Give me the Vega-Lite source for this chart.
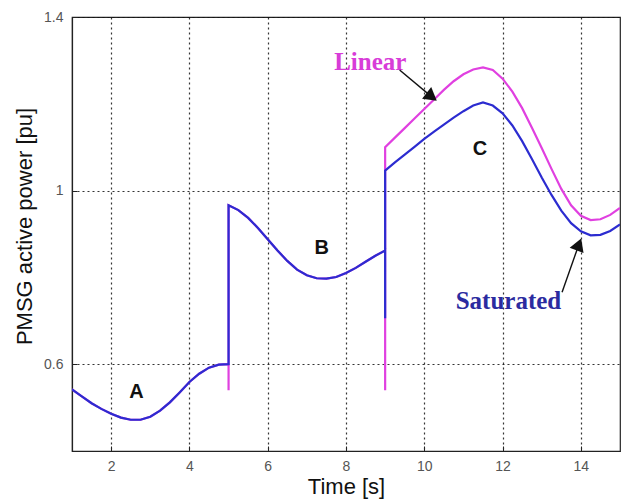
{
  "$schema": "https://vega.github.io/schema/vega-lite/v6.json",
  "width": 548,
  "height": 434,
  "autosize": {"type": "none"},
  "padding": {"left": 72, "top": 17, "right": 3, "bottom": 53},
  "background": "white",
  "config": {
    "view": {"stroke": "#222", "strokeWidth": 1.2},
    "axis": {
      "domainColor": "#222",
      "domainWidth": 1.2,
      "tickColor": "#222",
      "tickSize": -5,
      "labelFont": "Liberation Sans",
      "labelFontSize": 14,
      "labelColor": "#555",
      "labelFlush": false,
      "titleFont": "Liberation Sans",
      "titleFontSize": 22,
      "titleFontWeight": "normal",
      "titleColor": "#111",
      "grid": true,
      "gridColor": "#111",
      "gridDash": [2, 3],
      "gridWidth": 1.2,
      "gridOpacity": 0.85
    }
  },
  "datasets": {
    "power": [
      {"s": "Linear", "i": 0, "t": 1.0, "p": 0.542},
      {"s": "Linear", "i": 1, "t": 1.25, "p": 0.526},
      {"s": "Linear", "i": 2, "t": 1.5, "p": 0.51},
      {"s": "Linear", "i": 3, "t": 1.75, "p": 0.497},
      {"s": "Linear", "i": 4, "t": 2.0, "p": 0.486},
      {"s": "Linear", "i": 5, "t": 2.25, "p": 0.477},
      {"s": "Linear", "i": 6, "t": 2.5, "p": 0.472},
      {"s": "Linear", "i": 7, "t": 2.75, "p": 0.472},
      {"s": "Linear", "i": 8, "t": 3.0, "p": 0.479},
      {"s": "Linear", "i": 9, "t": 3.25, "p": 0.493},
      {"s": "Linear", "i": 10, "t": 3.5, "p": 0.512},
      {"s": "Linear", "i": 11, "t": 3.75, "p": 0.535},
      {"s": "Linear", "i": 12, "t": 4.0, "p": 0.559},
      {"s": "Linear", "i": 13, "t": 4.25, "p": 0.578},
      {"s": "Linear", "i": 14, "t": 4.5, "p": 0.592},
      {"s": "Linear", "i": 15, "t": 4.75, "p": 0.599},
      {"s": "Linear", "i": 16, "t": 5.0, "p": 0.6},
      {"s": "Linear", "i": 17, "t": 5.0, "p": 0.54},
      {"s": "Linear", "i": 18, "t": 5.0, "p": 0.966},
      {"s": "Linear", "i": 19, "t": 5.25, "p": 0.955},
      {"s": "Linear", "i": 20, "t": 5.5, "p": 0.937},
      {"s": "Linear", "i": 21, "t": 5.75, "p": 0.914},
      {"s": "Linear", "i": 22, "t": 6.0, "p": 0.888},
      {"s": "Linear", "i": 23, "t": 6.25, "p": 0.862},
      {"s": "Linear", "i": 24, "t": 6.5, "p": 0.838},
      {"s": "Linear", "i": 25, "t": 6.75, "p": 0.818},
      {"s": "Linear", "i": 26, "t": 7.0, "p": 0.805},
      {"s": "Linear", "i": 27, "t": 7.25, "p": 0.798},
      {"s": "Linear", "i": 28, "t": 7.5, "p": 0.797},
      {"s": "Linear", "i": 29, "t": 7.75, "p": 0.801},
      {"s": "Linear", "i": 30, "t": 8.0, "p": 0.81},
      {"s": "Linear", "i": 31, "t": 8.25, "p": 0.822},
      {"s": "Linear", "i": 32, "t": 8.5, "p": 0.836},
      {"s": "Linear", "i": 33, "t": 8.75, "p": 0.85},
      {"s": "Linear", "i": 34, "t": 9.0, "p": 0.862},
      {"s": "Linear", "i": 35, "t": 9.0, "p": 0.54},
      {"s": "Linear", "i": 36, "t": 9.0, "p": 1.1},
      {"s": "Linear", "i": 37, "t": 9.25, "p": 1.122},
      {"s": "Linear", "i": 38, "t": 9.5, "p": 1.144},
      {"s": "Linear", "i": 39, "t": 9.75, "p": 1.166},
      {"s": "Linear", "i": 40, "t": 10.0, "p": 1.188},
      {"s": "Linear", "i": 41, "t": 10.25, "p": 1.21},
      {"s": "Linear", "i": 42, "t": 10.5, "p": 1.232},
      {"s": "Linear", "i": 43, "t": 10.75, "p": 1.252},
      {"s": "Linear", "i": 44, "t": 11.0, "p": 1.268},
      {"s": "Linear", "i": 45, "t": 11.25, "p": 1.279},
      {"s": "Linear", "i": 46, "t": 11.5, "p": 1.284},
      {"s": "Linear", "i": 47, "t": 11.75, "p": 1.278},
      {"s": "Linear", "i": 48, "t": 12.0, "p": 1.258},
      {"s": "Linear", "i": 49, "t": 12.25, "p": 1.228},
      {"s": "Linear", "i": 50, "t": 12.5, "p": 1.19},
      {"s": "Linear", "i": 51, "t": 12.75, "p": 1.145},
      {"s": "Linear", "i": 52, "t": 13.0, "p": 1.098},
      {"s": "Linear", "i": 53, "t": 13.25, "p": 1.05},
      {"s": "Linear", "i": 54, "t": 13.5, "p": 1.004},
      {"s": "Linear", "i": 55, "t": 13.75, "p": 0.966},
      {"s": "Linear", "i": 56, "t": 14.0, "p": 0.942},
      {"s": "Linear", "i": 57, "t": 14.25, "p": 0.932},
      {"s": "Linear", "i": 58, "t": 14.5, "p": 0.934},
      {"s": "Linear", "i": 59, "t": 14.75, "p": 0.944},
      {"s": "Linear", "i": 60, "t": 15.0, "p": 0.96},

      {"s": "Saturated", "i": 0, "t": 1.0, "p": 0.542},
      {"s": "Saturated", "i": 1, "t": 1.25, "p": 0.526},
      {"s": "Saturated", "i": 2, "t": 1.5, "p": 0.51},
      {"s": "Saturated", "i": 3, "t": 1.75, "p": 0.497},
      {"s": "Saturated", "i": 4, "t": 2.0, "p": 0.486},
      {"s": "Saturated", "i": 5, "t": 2.25, "p": 0.477},
      {"s": "Saturated", "i": 6, "t": 2.5, "p": 0.472},
      {"s": "Saturated", "i": 7, "t": 2.75, "p": 0.472},
      {"s": "Saturated", "i": 8, "t": 3.0, "p": 0.479},
      {"s": "Saturated", "i": 9, "t": 3.25, "p": 0.493},
      {"s": "Saturated", "i": 10, "t": 3.5, "p": 0.512},
      {"s": "Saturated", "i": 11, "t": 3.75, "p": 0.535},
      {"s": "Saturated", "i": 12, "t": 4.0, "p": 0.559},
      {"s": "Saturated", "i": 13, "t": 4.25, "p": 0.578},
      {"s": "Saturated", "i": 14, "t": 4.5, "p": 0.592},
      {"s": "Saturated", "i": 15, "t": 4.75, "p": 0.599},
      {"s": "Saturated", "i": 16, "t": 5.0, "p": 0.6},
      {"s": "Saturated", "i": 17, "t": 5.0, "p": 0.966},
      {"s": "Saturated", "i": 18, "t": 5.25, "p": 0.955},
      {"s": "Saturated", "i": 19, "t": 5.5, "p": 0.937},
      {"s": "Saturated", "i": 20, "t": 5.75, "p": 0.914},
      {"s": "Saturated", "i": 21, "t": 6.0, "p": 0.888},
      {"s": "Saturated", "i": 22, "t": 6.25, "p": 0.862},
      {"s": "Saturated", "i": 23, "t": 6.5, "p": 0.838},
      {"s": "Saturated", "i": 24, "t": 6.75, "p": 0.818},
      {"s": "Saturated", "i": 25, "t": 7.0, "p": 0.805},
      {"s": "Saturated", "i": 26, "t": 7.25, "p": 0.798},
      {"s": "Saturated", "i": 27, "t": 7.5, "p": 0.797},
      {"s": "Saturated", "i": 28, "t": 7.75, "p": 0.801},
      {"s": "Saturated", "i": 29, "t": 8.0, "p": 0.81},
      {"s": "Saturated", "i": 30, "t": 8.25, "p": 0.822},
      {"s": "Saturated", "i": 31, "t": 8.5, "p": 0.836},
      {"s": "Saturated", "i": 32, "t": 8.75, "p": 0.85},
      {"s": "Saturated", "i": 33, "t": 9.0, "p": 0.862},
      {"s": "Saturated", "i": 34, "t": 9.0, "p": 0.706},
      {"s": "Saturated", "i": 35, "t": 9.0, "p": 1.046},
      {"s": "Saturated", "i": 36, "t": 9.25, "p": 1.065},
      {"s": "Saturated", "i": 37, "t": 9.5, "p": 1.083},
      {"s": "Saturated", "i": 38, "t": 9.75, "p": 1.101},
      {"s": "Saturated", "i": 39, "t": 10.0, "p": 1.119},
      {"s": "Saturated", "i": 40, "t": 10.25, "p": 1.136},
      {"s": "Saturated", "i": 41, "t": 10.5, "p": 1.152},
      {"s": "Saturated", "i": 42, "t": 10.75, "p": 1.168},
      {"s": "Saturated", "i": 43, "t": 11.0, "p": 1.183},
      {"s": "Saturated", "i": 44, "t": 11.25, "p": 1.196},
      {"s": "Saturated", "i": 45, "t": 11.5, "p": 1.203},
      {"s": "Saturated", "i": 46, "t": 11.75, "p": 1.196},
      {"s": "Saturated", "i": 47, "t": 12.0, "p": 1.178},
      {"s": "Saturated", "i": 48, "t": 12.25, "p": 1.15},
      {"s": "Saturated", "i": 49, "t": 12.5, "p": 1.114},
      {"s": "Saturated", "i": 50, "t": 12.75, "p": 1.073},
      {"s": "Saturated", "i": 51, "t": 13.0, "p": 1.03},
      {"s": "Saturated", "i": 52, "t": 13.25, "p": 0.99},
      {"s": "Saturated", "i": 53, "t": 13.5, "p": 0.954},
      {"s": "Saturated", "i": 54, "t": 13.75, "p": 0.925},
      {"s": "Saturated", "i": 55, "t": 14.0, "p": 0.906},
      {"s": "Saturated", "i": 56, "t": 14.25, "p": 0.897},
      {"s": "Saturated", "i": 57, "t": 14.5, "p": 0.898},
      {"s": "Saturated", "i": 58, "t": 14.75, "p": 0.907},
      {"s": "Saturated", "i": 59, "t": 15.0, "p": 0.922}
    ],
    "regions": [
      {"label": "A", "t": 2.65, "p": 0.535},
      {"label": "B", "t": 7.38, "p": 0.868},
      {"label": "C", "t": 11.42, "p": 1.095}
    ],
    "names": [
      {"label": "Linear", "t": 8.62, "p": 1.297, "s": "Linear"},
      {"label": "Saturated", "t": 12.15, "p": 0.745, "s": "Saturated"}
    ],
    "arrows": [
      {"t": 9.37, "p": 1.278, "t2": 10.19, "p2": 1.216, "a": 128},
      {"t": 13.52, "p": 0.766, "t2": 13.95, "p2": 0.876, "a": 21}
    ]
  },
  "layer": [
    {
      "data": {"name": "power"},
      "mark": {"type": "line", "strokeWidth": 2.2, "clip": true},
      "encoding": {
        "x": {
          "field": "t", "type": "quantitative",
          "scale": {"domain": [1, 15], "nice": false, "zero": false},
          "axis": {"values": [2, 4, 6, 8, 10, 12, 14], "title": "Time [s]", "labelPadding": 13, "titlePadding": 3}
        },
        "y": {
          "field": "p", "type": "quantitative",
          "scale": {"domain": [0.4, 1.4], "nice": false, "zero": false},
          "axis": {"values": [0.6, 1, 1.4], "format": "~g", "title": "PMSG active power [pu]", "labelPadding": 14, "titlePadding": 7, "titleY": 209}
        },
        "color": {
          "field": "s", "type": "nominal",
          "scale": {"domain": ["Linear", "Saturated"], "range": ["#e040e0", "#2c2cd0"]},
          "legend": null
        },
        "order": {"field": "i", "type": "quantitative"}
      }
    },
    {
      "data": {"name": "regions"},
      "mark": {"type": "text", "font": "Liberation Sans", "fontWeight": "bold", "fontSize": 20, "color": "#111"},
      "encoding": {
        "x": {"field": "t", "type": "quantitative"},
        "y": {"field": "p", "type": "quantitative"},
        "text": {"field": "label"}
      }
    },
    {
      "data": {"name": "names"},
      "mark": {"type": "text", "font": "Liberation Serif", "fontWeight": "bold", "fontSize": 25},
      "encoding": {
        "x": {"field": "t", "type": "quantitative"},
        "y": {"field": "p", "type": "quantitative"},
        "text": {"field": "label"},
        "color": {
          "field": "s", "type": "nominal",
          "scale": {"domain": ["Linear", "Saturated"], "range": ["#d83cd8", "#2b2ba0"]},
          "legend": null
        }
      }
    },
    {
      "data": {"name": "arrows"},
      "mark": {"type": "rule", "color": "#111", "strokeWidth": 1.4},
      "encoding": {
        "x": {"field": "t", "type": "quantitative"},
        "y": {"field": "p", "type": "quantitative"},
        "x2": {"field": "t2"},
        "y2": {"field": "p2"}
      }
    },
    {
      "data": {"name": "arrows"},
      "mark": {"type": "point", "shape": "triangle-up", "filled": true, "color": "#111", "size": 220, "opacity": 1},
      "encoding": {
        "x": {"field": "t2", "type": "quantitative"},
        "y": {"field": "p2", "type": "quantitative"},
        "angle": {"field": "a", "type": "quantitative", "scale": null}
      }
    }
  ],
  "resolve": {"scale": {"color": "independent"}}
}
